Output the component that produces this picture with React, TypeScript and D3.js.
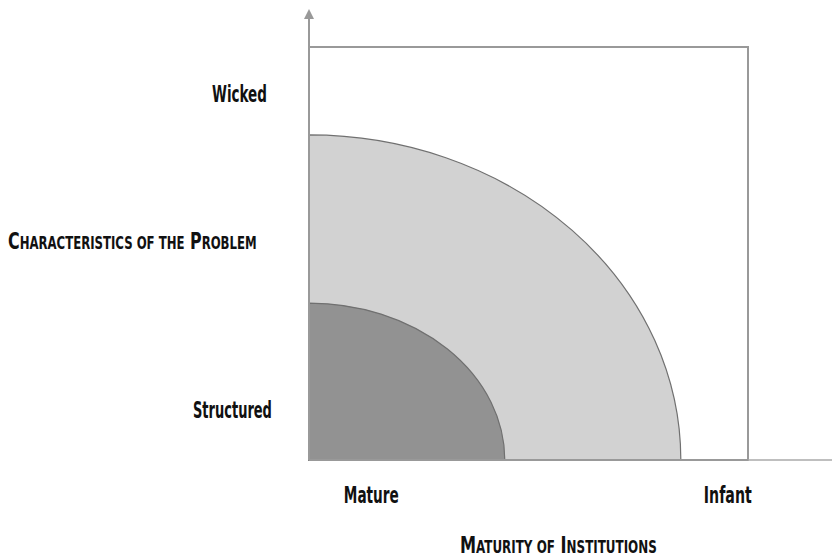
import React, { useEffect, useRef } from 'react';
import * as d3 from 'd3';

// zones drawn as quarter ellipses from the origin (data units 0..1)
const zoneNames: string[] = ["outer", "inner"];
const zoneRx: number[] = [0.847, 0.446];
const zoneRy: number[] = [0.787, 0.380];
const zoneFill: string[] = ["#d2d2d2", "#929292"];

// tick labels
const yTickLabels: string[] = ["Wicked", "Structured"];
const yTickValues: number[] = [0.885, 0.12];
const xTickLabels: string[] = ["Mature", "Infant"];
const xTickValues: number[] = [0.142, 0.954];

const W = 832;
const H = 560;
const FONT = "'DejaVu Sans Condensed', 'Liberation Sans Narrow', sans-serif";

let x_scale = d3.scaleLinear().domain([0, 1]).range([309, 748]);
let y_scale = d3.scaleLinear().domain([0, 1]).range([460, 47]);

// small caps done by hand: first letter of each capitalised word large
const smallCaps = (g: any, text: string) => {
    const words = text.split(" ");
    words.forEach((w, i) => {
        const isBig = w[0] === w[0].toUpperCase();
        const prefix = i > 0 ? " " : "";
        if (isBig) {
            g.append("tspan").attr("font-size", 23).text(prefix + w[0]);
            g.append("tspan").attr("font-size", 17).text(w.slice(1).toUpperCase());
        } else {
            g.append("tspan").attr("font-size", 17).text(prefix + w.toUpperCase());
        }
    });
};

// squeeze a label horizontally so it spans `width` px starting at x
const fitText = (t: any, x: number, y: number, width: number) => {
    const len = (t.node() as SVGTextElement).getComputedTextLength();
    t.attr("transform", `translate(${x},${y}) scale(${width / len},1)`);
};

export default function App() {
    const ref = useRef<SVGSVGElement>(null);

    useEffect(() => {
        const svg = d3.select(ref.current);
        svg.selectAll("*").remove();

        svg.append("defs").append("marker")
            .attr("id", "arrow")
            .attr("viewBox", "0 0 10 10")
            .attr("refX", 5)
            .attr("refY", 5)
            .attr("markerWidth", 5)
            .attr("markerHeight", 5)
            .attr("orient", "auto")
            .append("path")
            .attr("d", "M0,0 L10,5 L0,10 z")
            .attr("fill", "#999");

        // box
        svg.append("rect")
            .attr("x", x_scale(0))
            .attr("y", y_scale(1))
            .attr("width", x_scale(1) - x_scale(0))
            .attr("height", y_scale(0) - y_scale(1))
            .attr("fill", "white")
            .attr("stroke", "#999")
            .attr("stroke-width", 2);

        // quarter ellipses
        svg.selectAll("path.zone")
            .data(zoneNames)
            .join("path")
            .attr("class", "zone")
            .attr("d", (d, i) => {
                const x0 = x_scale(0), y0 = y_scale(0);
                const rx = x_scale(zoneRx[i]) - x0;
                const ry = y0 - y_scale(zoneRy[i]);
                return `M${x0},${y0} L${x0},${y0 - ry} A${rx},${ry} 0 0 1 ${x0 + rx},${y0} Z`;
            })
            .attr("fill", (d, i) => zoneFill[i])
            .attr("stroke", "#707070")
            .attr("stroke-width", 1.2);

        // axes
        svg.append("line")
            .attr("x1", x_scale(0)).attr("y1", y_scale(0))
            .attr("x2", x_scale(0)).attr("y2", 14)
            .attr("stroke", "#999").attr("stroke-width", 2)
            .attr("marker-end", "url(#arrow)");
        svg.append("line")
            .attr("x1", x_scale(1)).attr("y1", y_scale(0))
            .attr("x2", 834).attr("y2", y_scale(0))
            .attr("stroke", "#aaa").attr("stroke-width", 1.5);
        svg.append("line")
            .attr("x1", x_scale(0)).attr("y1", y_scale(0))
            .attr("x2", x_scale(1)).attr("y2", y_scale(0))
            .attr("stroke", "#999").attr("stroke-width", 2);

        const label = (s: string, size?: number) => svg.append("text")
            .attr("font-family", FONT)
            .attr("font-weight", "bold")
            .attr("font-size", size || 23)
            .attr("fill", "#111")
            .text(s);

        // y tick labels (right edge ~270)
        const yW = [55, 79];
        const yX = [212, 193];
        yTickLabels.forEach((s, i) => {
            fitText(label(s), yX[i], y_scale(yTickValues[i]) + 8, yW[i]);
        });

        // x tick labels
        const xW = [55, 48];
        xTickLabels.forEach((s, i) => {
            fitText(label(s), x_scale(xTickValues[i]) - xW[i] / 2, 503, xW[i]);
        });

        // axis titles
        const yTitle = svg.append("text")
            .attr("font-family", FONT)
            .attr("font-weight", "bold")
            .attr("fill", "#111");
        smallCaps(yTitle, "Characteristics of the Problem");
        fitText(yTitle, 8, 249, 249);

        const xTitle = svg.append("text")
            .attr("font-family", FONT)
            .attr("font-weight", "bold")
            .attr("fill", "#111");
        smallCaps(xTitle, "Maturity of Institutions");
        fitText(xTitle, 460, 553, 197);
    }, []);

    return (
        <svg ref={ref} width={W} height={H} style={{ position: "absolute", left: 0, top: 0, background: "white" }} />
    );
}
